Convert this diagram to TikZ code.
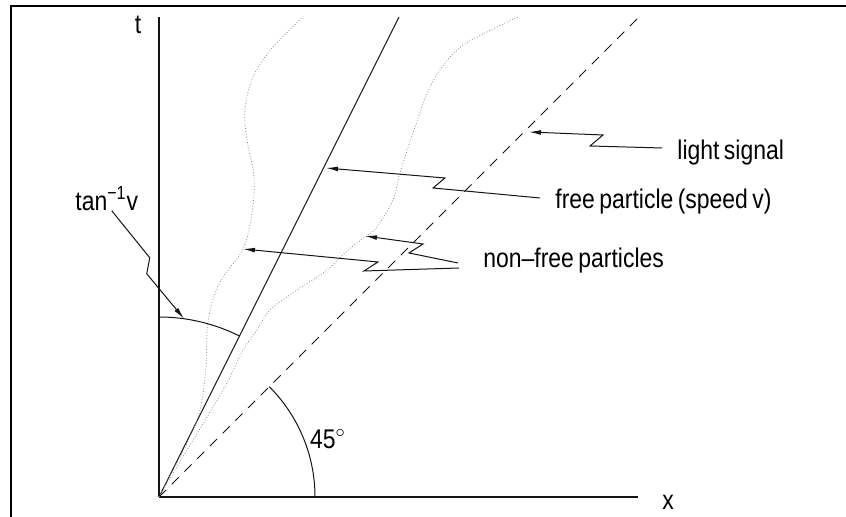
\documentclass[tikz,border=0pt]{standalone}
\usepackage{fontspec}
\setmainfont{Liberation Sans}[FakeStretch=0.85, WordSpace=0.7]
\usepackage{tikz}
\usetikzlibrary{arrows.meta, calc}
\definecolor{mydark}{RGB}{20,20,20}
\definecolor{mygray}{RGB}{140,140,140}
\tikzset{
  axisline/.style={line width=0.6pt, color=mydark},
  worldline/.style={line width=0.5pt, color=mydark},
  lightline/.style={line width=0.5pt, color=mydark, dash pattern=on 5pt off 4pt},
  wiggle/.style={line width=0.4pt, color=mygray, densely dotted},
  anglearc/.style={line width=0.5pt, color=mydark},
  zigarrow/.style={-{Latex[length=6pt, width=2.4pt]}, line width=0.5pt, color=mydark},
  lbl/.style={font=\fontsize{13.5}{16}\selectfont, inner sep=0pt},
  frameline/.style={line width=1pt, color=black}
}
\begin{document}
\begin{tikzpicture}[x=0.5pt, y=0.5pt]
  \useasboundingbox (-159,-20) rectangle (687,497);
  % Frame
  \draw[frameline] (-148,-20) -- (-148,491) -- (687,491);
  % Axes
  \coordinate (O) at (0,0);
  \coordinate (tEnd) at (0,480);
  \coordinate (xEnd) at (479,0);
  \draw[axisline] (O) -- (tEnd);
  \draw[axisline] (O) -- (xEnd);
  \node[lbl, anchor=center] (tlbl) at (-21,472) {t};
  \node[lbl, anchor=center] (xlbl) at (509,-5) {x};
  % World lines
  \coordinate (freeEnd) at (240,480);
  \coordinate (lightEnd) at (480,480);
  \draw[worldline] (O) -- (freeEnd);
  \draw[lightline] (O) -- (lightEnd);
  \draw[wiggle] plot[smooth, tension=0.6] coordinates {(0,0) (14,27) (28,54) (41,87) (47,130)
    (48,164) (53,194) (64,220) (84,248) (93,284) (95,320) (88,357) (86,387) (94,420) (114,450) (144,480)};
  \draw[wiggle] plot[smooth, tension=0.6] coordinates {(0,0) (28,47) (48,80) (68,114) (84,147)
    (98,167) (111,187) (138,207) (168,227) (189,247) (206,260) (218,270) (234,297) (241,324)
    (254,364) (273,414) (298,447) (328,465) (359,480)};
  % Angles
  \draw[anglearc] (0,180) arc[start angle=90, end angle=63.43, radius=180];
  \draw[anglearc] (156,0) arc[start angle=0, end angle=45, radius=156];
  \node[lbl] (anglbl) at (169,58) {45$^\circ$};
  % Labels
  \node[lbl, anchor=west] (tanlbl) at (-84,298.5) {tan\textsuperscript{−1}v};
  \node[lbl, anchor=west] (lightlbl) at (518,344) {light signal};
  \node[lbl, anchor=west] (freelbl) at (396,295.5) {free particle (speed v)};
  \node[lbl, anchor=west] (nonfreelbl) at (324,236) {non--free particles};
  % Arrow tips
  \coordinate (tiptan) at (82:180);
  \coordinate (tiplight) at (370,365);
  \coordinate (tipfree) at (167,329);
  \coordinate (tipnfa) at (84,248);
  \coordinate (tipnfb) at (206,261);
  % Connections
  \draw[zigarrow] ($(tanlbl.south)+(5,0)$) -- ++(38,-47) -- ++(-3,-16) -- (tiptan);
  \draw[zigarrow] ([shift={(-15,5)}]lightlbl.west) -- ++(-72,2) -- ++(13,11) -- (tiplight);
  \draw[zigarrow] ([shift={(-15,3.5)}]freelbl.west) -- ++(-107,10) -- ++(12,10) -- (tipfree);
  \draw[zigarrow] ([shift={(-24,-7)}]nonfreelbl.west) -- ++(-95,-3) -- ++(14,9) -- (tipnfa);
  \draw[zigarrow] ([shift={(-25,-2)}]nonfreelbl.west) -- ++(-49,10) -- ++(14,9) -- (tipnfb);
\end{tikzpicture}
\end{document}
